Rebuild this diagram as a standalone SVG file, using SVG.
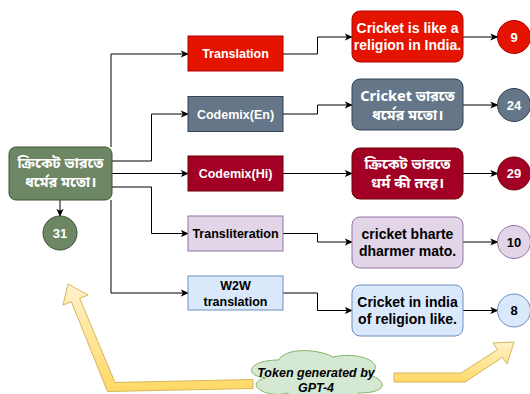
<svg xmlns="http://www.w3.org/2000/svg" width="530" height="394" viewBox="0 0 530 394">
<defs>
<marker id="arr" viewBox="0 0 10 10" refX="9" refY="5" markerWidth="8" markerHeight="8" markerUnits="userSpaceOnUse" orient="auto">
<path d="M0,0.5 L10,5 L0,9.5 L2.5,5 Z" fill="#000"/>
</marker>
<linearGradient id="yel" x1="0" y1="0" x2="0" y2="1">
<stop offset="0" stop-color="#fff2cc"/>
<stop offset="1" stop-color="#ffd966"/>
</linearGradient>
</defs>
<style>
.t{font-family:"Liberation Sans",Arial,sans-serif;font-weight:bold;text-anchor:middle}
.bn{font-family:"Noto Sans Bengali","Noto Sans","Liberation Sans",sans-serif;font-weight:bold;text-anchor:middle;font-size:14.5px}
.w{fill:#fff}
.k{fill:#000}
.m{font-size:12.5px}
.o{font-size:14px}
.c{font-size:13px}
.edge{fill:none;stroke:#000;stroke-width:1;marker-end:url(#arr)}
.red{fill:#e51400;stroke:#b20000}
.gry{fill:#647687;stroke:#314354}
.mar{fill:#a20025;stroke:#6f0000}
.pur{fill:#e1d5e7;stroke:#9673a6}
.blu{fill:#dae8fc;stroke:#6c8ebf}
.grn{fill:#6d8764;stroke:#3a5431}
</style>

<g id="connectors">
<path class="edge" d="M111,147 V54 H188"/>
<path class="edge" d="M112,161 H151.5 V114 H188"/>
<path class="edge" d="M112,173.5 H188"/>
<path class="edge" d="M112,187 H151.5 V233.5 H188"/>
<path class="edge" d="M111,200 V293 H188"/>
<path class="edge" d="M60,200 V216"/>
<path class="edge" d="M283,54 H317.5 V37 H352"/>
<path class="edge" d="M283,114 H317.5 V105 H352"/>
<path class="edge" d="M283,173.5 H352"/>
<path class="edge" d="M283,233.5 H317.5 V242 H352"/>
<path class="edge" d="M283,293 H317.5 V310.5 H352"/>
<path class="edge" d="M463,37 H497.5"/>
<path class="edge" d="M463,105 H497.5"/>
<path class="edge" d="M463,173.5 H497.5"/>
<path class="edge" d="M463,242 H497.5"/>
<path class="edge" d="M463,310.5 H497.5"/>
</g>

<g id="source">
<rect class="grn" x="9" y="147" width="103" height="53" rx="7"/>
<text class="bn w" x="60.5" y="168">ক্রিকেট ভারতে</text>
<text class="bn w" x="60.5" y="187">ধর্মের মতো।</text>
</g>
<g id="n31">
<circle class="grn" cx="60" cy="233" r="17"/>
<text class="t w c" x="60" y="237.5">31</text>
</g>

<g id="m-translation">
<rect class="red" x="188" y="36" width="95" height="35"/>
<text class="t w m" x="235.5" y="58">Translation</text>
</g>
<g id="m-codemix-en">
<rect class="gry" x="188" y="96.5" width="95" height="35"/>
<text class="t w m" x="235.5" y="118.5">Codemix(En)</text>
</g>
<g id="m-codemix-hi">
<rect class="mar" x="188" y="156" width="95" height="35"/>
<text class="t w m" x="235.5" y="178">Codemix(Hi)</text>
</g>
<g id="m-translit">
<rect class="pur" x="188" y="216" width="95" height="35"/>
<text class="t k m" x="235.5" y="238">Transliteration</text>
</g>
<g id="m-w2w">
<rect class="blu" x="188" y="276" width="95" height="34"/>
<text class="t k m" x="235.5" y="289.5">W2W</text>
<text class="t k m" x="235.5" y="305.5">translation</text>
</g>

<g id="o-translation">
<rect class="red" x="352" y="11" width="111" height="51" rx="8"/>
<text class="t w o" x="407.5" y="33">Cricket is like a</text>
<text class="t w o" x="407.5" y="50">religion in India.</text>
</g>
<g id="o-codemix-en">
<rect class="gry" x="352" y="79" width="111" height="51" rx="8"/>
<text class="bn w" x="407.5" y="100.5">Cricket ভারতে</text>
<text class="bn w" x="407.5" y="119.5">ধর্মের মতো।</text>
</g>
<g id="o-codemix-hi">
<rect class="mar" x="352" y="148" width="111" height="51" rx="8"/>
<text class="bn w" x="407.5" y="168.5">ক্রিকেট ভারতে</text>
<text class="bn w" x="407.5" y="187.5">धर्म की तरह।</text>
</g>
<g id="o-translit">
<rect class="pur" x="352" y="217" width="111" height="51" rx="8"/>
<text class="t k o" x="407.5" y="239">cricket bharte</text>
<text class="t k o" x="407.5" y="256">dharmer mato.</text>
</g>
<g id="o-w2w">
<rect class="blu" x="352" y="285" width="111" height="51" rx="8"/>
<text class="t k o" x="407.5" y="307">Cricket in india</text>
<text class="t k o" x="407.5" y="324">of religion like.</text>
</g>

<g id="s9"><circle class="red" cx="514" cy="37" r="16.5"/><text class="t w c" x="514" y="41.5">9</text></g>
<g id="s24"><circle class="gry" cx="514" cy="105" r="16.5"/><text class="t w c" x="514" y="109.5">24</text></g>
<g id="s29"><circle class="mar" cx="514" cy="173.5" r="16.5"/><text class="t w c" x="514" y="178">29</text></g>
<g id="s10"><circle class="pur" cx="514" cy="242" r="16.5"/><text class="t k c" x="514" y="246.5">10</text></g>
<g id="s8"><circle class="blu" cx="514" cy="310.5" r="16.5"/><text class="t k c" x="514" y="315">8</text></g>

<g id="arrows-yellow">
<polygon fill="url(#yel)" stroke="#d6b656" stroke-width="1" points="253,388.5 107.5,391.5 71.4,301.7 63,305 68,284 88,295 79.6,298.3 115,382.5 253,379.5"/>
<polygon fill="url(#yel)" stroke="#d6b656" stroke-width="1" points="394,373 461,373 497.5,349.7 493,343 514,342 507,364 502.5,357.3 465,382 394,382"/>
</g>

<g id="cloud">
<path fill="#d5e8d4" stroke="#82b366" stroke-width="1" transform="translate(242,345) scale(146,60)" vector-effect="non-scaling-stroke" d="M0.25,0.25 C0.05,0.25 0,0.5 0.16,0.55 C0,0.66 0.18,0.9 0.31,0.8 C0.4,1 0.7,1 0.8,0.8 C1,0.8 1,0.6 0.875,0.5 C1,0.3 0.8,0.1 0.625,0.2 C0.5,0.05 0.3,0.05 0.25,0.25 Z"/>
<text class="t k m" font-style="italic" x="316" y="376.5">Token generated by</text>
<text class="t k m" font-style="italic" x="316" y="391.5">GPT-4</text>
</g>
</svg>
